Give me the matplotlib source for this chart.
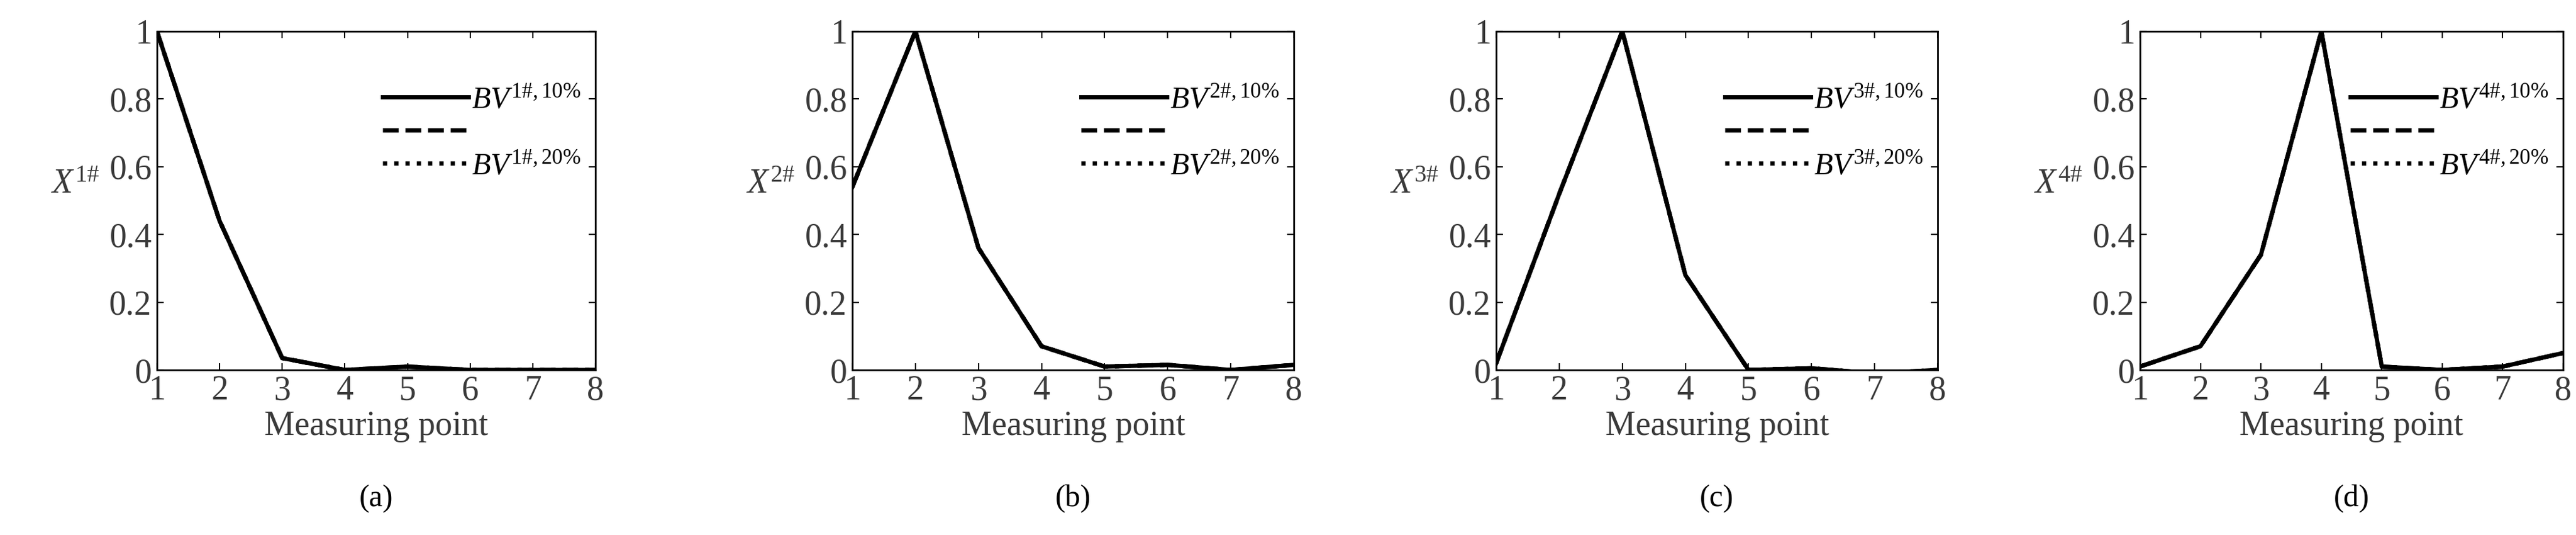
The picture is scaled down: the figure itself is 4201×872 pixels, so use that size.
import numpy as np
import matplotlib.pyplot as plt

plt.rcParams['font.family'] = 'Liberation Serif'
plt.rcParams['mathtext.fontset'] = 'custom'
plt.rcParams['mathtext.it'] = 'Liberation Serif:italic'
plt.rcParams['mathtext.rm'] = 'Liberation Serif'

points = [1, 2, 3, 4, 5, 6, 7, 8]
x_a = [1.0, 0.44, 0.035, 0.0, 0.01, 0.0, 0.0, 0.0]
x_b = [0.54, 1.0, 0.36, 0.07, 0.01, 0.015, 0.0, 0.015]
x_c = [0.02, 0.52, 1.0, 0.28, 0.0, 0.005, -0.01, 0.0]
x_d = [0.01, 0.07, 0.34, 1.0, 0.01, 0.0, 0.01, 0.05]
panels = [x_a, x_b, x_c, x_d]
tags = ['(a)', '(b)', '(c)', '(d)']

W, H = 4201, 872
fig = plt.figure(figsize=(W / 100, H / 100), dpi=100)
lefts = [256, 1390, 2440, 3490]
widths = [715, 720, 720, 690]
txt = '#3a3a3a'

for i, vals in enumerate(panels):
    ax = fig.add_axes([lefts[i] / W, 1 - 603 / H, widths[i] / W, 552 / H])
    k = i + 1
    ax.plot(points, vals, '-', color='black', lw=5, label=rf'$BV^{{{k}\#,10\%}}$')
    ax.plot(points, vals, '--', color='black', lw=5, label=' ')
    ax.plot(points, vals, ':', color='black', lw=5, label=rf'$BV^{{{k}\#,20\%}}$')
    ax.set_xlim(1, 8)
    ax.set_ylim(0, 1)
    ax.set_xticks(points)
    ax.set_yticks([0, 0.2, 0.4, 0.6, 0.8, 1])
    ax.set_yticklabels(['0', '0.2', '0.4', '0.6', '0.8', '1'])
    ax.tick_params(direction='in', top=True, right=True, labelsize=40,
                   labelcolor=txt, length=8, width=1.5, pad=6)
    for s in ax.spines.values():
        s.set_linewidth(2)
    ax.set_xlabel('Measuring point', fontsize=40, color=txt, labelpad=4)
    ax.set_ylabel(rf'$X^{{{k}\#}}$', fontsize=40, color=txt, rotation=0, labelpad=40)
    ax.legend(loc='upper right', bbox_to_anchor=(1.03, 0.92), frameon=False,
              fontsize=36, handlelength=2.8, labelspacing=0.15, handletextpad=0.1)
    ax.text(0.5, -0.38, tags[i], transform=ax.transAxes, ha='center', va='center',
            fontsize=36, color='black')

fig.savefig('out.png', dpi=100)
